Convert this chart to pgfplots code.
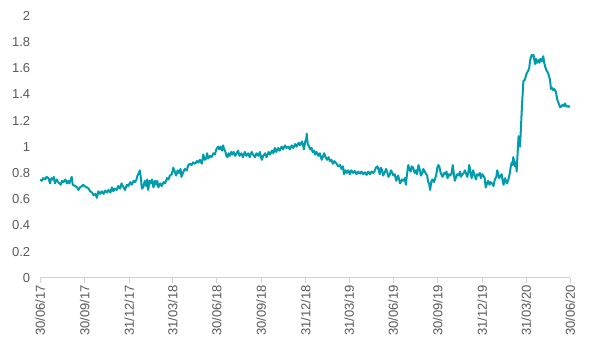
\documentclass[border=0pt]{standalone}
\usepackage{pgfplots}
\pgfplotsset{compat=1.18}
\usepackage{fontspec}
\setmainfont{Liberation Sans}
\definecolor{teal1}{RGB}{0,155,172}
\definecolor{txt}{RGB}{89,89,89}
\definecolor{axl}{RGB}{210,210,210}
\begin{document}
\begin{tikzpicture}
\begin{axis}[
  scale only axis,
  width=530pt, height=262.2pt,
  at={(0,0)}, anchor=south west,
  xmin=0, xmax=1096, ymin=0, ymax=2,
  axis x line*=bottom, axis y line*=left,
  y axis line style={draw=none},
  x axis line style={axl, line width=0.8pt, -},
  ytick={0,0.2,...,2.01},
  ytick style={draw=none},
  xtick={0,92,184,274,365,457,549,639,730,822,914,1005,1096},
  xticklabels={30/06/17,30/09/17,31/12/17,31/03/18,30/06/18,30/09/18,31/12/18,31/03/19,30/06/19,30/09/19,31/12/19,31/03/20,30/06/20},
  xtick align=outside,
  major tick length=5pt,
  xtick style={axl, line width=0.8pt},
  x tick label style={rotate=90, anchor=east, font=\fontsize{13}{15}\selectfont, text=txt, inner sep=2pt},
  y tick label style={font=\fontsize{13}{15}\selectfont, text=txt, inner sep=0pt, xshift=-10pt},
  /pgf/number format/assume math mode=true,
  yticklabel={\pgfmathprintnumber[fixed, precision=1]{\tick}},
  clip=false,
]
\addplot[teal1, line width=2pt, line join=round] coordinates {
(0,0.75)(3,0.74)(6,0.76)(10,0.75)(13,0.77)(17,0.76)(20,0.72)(23,0.76)(26,0.75)(28,0.77)(30,0.72)(34,0.75)(37,0.73)
(42,0.71)(45,0.74)(48,0.73)(52,0.75)(55,0.72)(58,0.74)(60,0.72)(63,0.75)(65,0.77)(67,0.71)
(72,0.70)(76,0.69)(79,0.67)(82,0.69)(86,0.70)(89,0.71)(91,0.70)(96,0.69)(100,0.68)(103,0.66)(107,0.65)(110,0.63)
(114,0.64)(117,0.61)(120,0.66)(124,0.64)(127,0.66)(131,0.64)(134,0.665)(138,0.65)(141,0.67)(145,0.65)
(148,0.69)(151,0.66)(154,0.68)(158,0.67)(161,0.70)(165,0.68)(168,0.72)(172,0.69)(175,0.67)(179,0.71)(182,0.70)(186,0.73)
(189,0.71)(193,0.74)(196,0.73)(199,0.75)(201,0.78)(204,0.80)(206,0.82)(208,0.76)(210,0.68)
(213,0.69)(216,0.74)(219,0.70)(221,0.75)(223,0.67)(226,0.74)(228,0.72)(231,0.75)(234,0.69)(237,0.74)(239,0.71)
(242,0.74)(244,0.69)(248,0.72)(251,0.70)(255,0.73)(258,0.72)(262,0.76)(265,0.75)(268,0.78)(272,0.79)
(275,0.84)(278,0.81)(281,0.78)(284,0.82)(287,0.80)(290,0.83)(292,0.77)(296,0.81)(299,0.83)(303,0.82)(306,0.86)
(310,0.87)(313,0.86)(316,0.88)(320,0.87)(324,0.89)(327,0.88)(330,0.90)(334,0.87)(337,0.94)(340,0.90)
(343,0.91)(345,0.95)(347,0.91)(351,0.93)(354,0.92)(358,0.95)(361,0.94)(364,0.98)(368,1.00)(370,0.98)(373,1.00)(376,0.97)(378,1.01)
(380,0.98)(382,0.97)(385,0.93)(387,0.92)(389,0.95)(392,0.93)(395,0.96)(398,0.94)
(400,0.96)(403,0.93)(406,0.95)(409,0.97)(412,0.93)(416,0.95)(419,0.92)(423,0.96)(426,0.93)(430,0.95)(433,0.92)(437,0.96)
(440,0.94)(444,0.92)(447,0.95)(451,0.93)(454,0.96)(458,0.90)(461,0.93)(465,0.95)(468,0.92)(472,0.96)
(475,0.94)(479,0.97)(482,0.95)(485,0.99)(488,0.96)(492,0.99)(495,0.97)(499,1.00)(502,0.98)(506,1.01)(509,0.99)(513,1.00)(516,0.98)(520,1.01)
(523,0.99)(527,1.02)(530,1.00)(534,1.03)(537,1.01)(541,1.04)(543,1.02)(545,0.98)(548,1.04)
(550,1.06)(551,1.10)(553,1.02)(556,1.00)(558,0.98)(561,0.99)(563,0.96)(566,0.97)(568,0.94)(571,0.96)(575,0.93)(578,0.95)
(582,0.90)(585,0.93)(587,0.95)(590,0.92)(593,0.90)(596,0.92)(599,0.89)(602,0.90)
(605,0.87)(608,0.89)(610,0.88)(613,0.87)(616,0.85)(620,0.86)(623,0.83)(626,0.85)(628,0.79)(631,0.82)(634,0.80)(637,0.82)(640,0.79)
(643,0.82)(647,0.80)(650,0.815)(654,0.79)(657,0.81)(661,0.795)(664,0.81)(668,0.79)(671,0.805)(675,0.785)(678,0.81)
(682,0.79)(685,0.81)(689,0.80)(692,0.82)(694,0.84)(697,0.85)(699,0.83)(702,0.79)(704,0.84)(707,0.82)(709,0.78)(712,0.80)
(715,0.83)(718,0.80)(720,0.77)(723,0.79)(725,0.82)(728,0.80)(730,0.78)(733,0.79)
(736,0.74)(738,0.76)(740,0.78)(742,0.75)(744,0.72)(748,0.75)(751,0.74)(754,0.76)(756,0.71)(758,0.78)(761,0.86)(763,0.83)(766,0.81)(768,0.85)
(771,0.84)(774,0.80)(777,0.82)(779,0.79)(782,0.86)(785,0.82)(787,0.78)(790,0.80)
(792,0.83)(795,0.81)(798,0.79)(800,0.78)(802,0.73)(804,0.72)(806,0.67)(809,0.74)(811,0.75)(814,0.73)(816,0.75)(819,0.79)
(821,0.84)(823,0.86)(825,0.85)(828,0.80)(832,0.77)(835,0.80)(837,0.79)(840,0.81)(842,0.76)
(845,0.79)(847,0.78)(850,0.79)(853,0.86)(855,0.80)(857,0.74)(860,0.77)(862,0.79)(865,0.78)(868,0.81)(870,0.77)(873,0.79)
(876,0.80)(878,0.82)(881,0.79)(883,0.77)(885,0.80)(887,0.86)(890,0.80)(892,0.76)(895,0.82)(898,0.78)
(901,0.75)(903,0.79)(906,0.78)(909,0.80)(911,0.76)(914,0.79)(916,0.78)(919,0.76)(921,0.69)(924,0.72)(926,0.74)(929,0.71)(931,0.73)(934,0.72)
(937,0.70)(940,0.75)(943,0.77)(945,0.82)(947,0.79)(949,0.76)(952,0.78)(954,0.79)(956,0.74)(958,0.71)(961,0.76)(963,0.74)
(965,0.72)(968,0.75)(971,0.80)(973,0.85)(975,0.88)(977,0.86)(978,0.92)(980,0.89)(982,0.85)(984,0.88)(985,0.81)(987,0.95)(989,1.08)
(992,1.00)(994,1.15)(996,1.31)(999,1.50)(1002,1.51)(1004,1.54)(1006,1.56)(1009,1.58)(1011,1.60)(1013,1.66)(1016,1.70)(1018,1.69)(1020,1.70)(1023,1.63)
(1025,1.67)(1027,1.64)(1030,1.66)(1032,1.64)(1034,1.67)(1037,1.65)(1040,1.69)(1042,1.64)(1044,1.61)(1047,1.58)(1049,1.57)(1051,1.55)(1054,1.51)(1056,1.44)
(1058,1.45)(1061,1.43)(1063,1.44)(1066,1.42)(1069,1.36)(1072,1.33)(1075,1.30)(1078,1.31)(1080,1.32)(1083,1.31)(1085,1.33)(1088,1.305)(1092,1.31)(1095,1.30)
};
\end{axis}
\pgfresetboundingbox
\path[use as bounding box] (-40.3pt,-77.2pt) rectangle (554.7pt,277.8pt);
\end{tikzpicture}
\end{document}
